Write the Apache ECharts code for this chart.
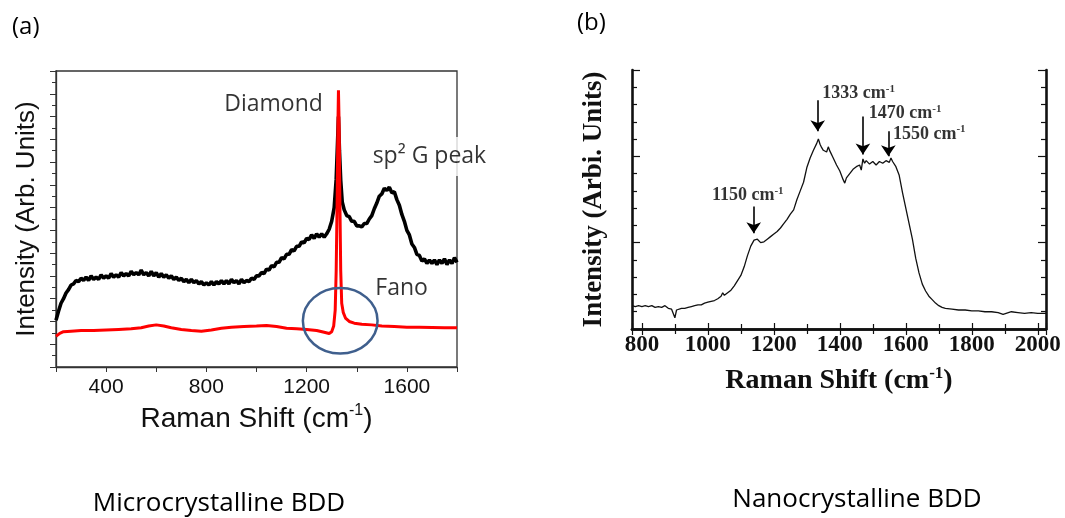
<!DOCTYPE html>
<html>
<head>
<meta charset="utf-8">
<script src="https://cdn.jsdelivr.net/npm/echarts@6/dist/echarts.min.js"></script>
<style>
  html, body { margin: 0; padding: 0; background: #fff; }
  #main { width: 1065px; height: 518px; }
</style>
</head>
<body>
<div id="main"></div>
<script>
// (a) microcrystalline BDD, black = measured spectrum, red = second spectrum
var microX = [200,210,220,230,240,250,260,270,280,290,300,310,320,330,340,350,360,370,380,390,400,410,420,430,440,450,460,470,480,490,500,510,520,530,540,550,560,570,580,590,600,610,620,630,640,650,660,670,680,690,700,710,720,730,740,750,760,770,780,790,800,810,820,830,840,850,860,870,880,890,900,910,920,930,940,950,960,970,980,990,1000,1010,1020,1030,1040,1050,1060,1070,1080,1090,1100,1110,1120,1130,1140,1150,1160,1170,1180,1190,1200,1210,1220,1230,1240,1250,1260,1270,1280,1290,1300,1310,1318,1323,1327,1331,1336,1342,1350,1360,1370,1380,1390,1400,1410,1420,1430,1440,1450,1460,1470,1480,1490,1500,1510,1520,1530,1540,1550,1560,1570,1580,1590,1600,1610,1620,1630,1640,1650,1660,1670,1680,1690,1700,1710,1720,1730,1740,1750,1760,1770,1780,1790,1800];
var microBlack = [4.1,4.9,5.6,6.0,6.5,6.8,7.2,7.3,7.6,7.5,7.8,7.6,7.9,7.6,8.0,7.7,7.9,7.7,8.1,7.8,8.0,7.8,8.2,7.9,8.1,7.9,8.3,8.0,8.2,8.0,8.4,8.1,8.3,8.1,8.5,8.1,8.3,8.0,8.4,8.0,8.3,7.9,8.2,7.9,8.1,7.8,8.0,7.7,7.9,7.6,7.8,7.5,7.7,7.4,7.7,7.4,7.6,7.3,7.5,7.2,7.4,7.2,7.5,7.2,7.5,7.3,7.6,7.3,7.6,7.3,7.7,7.4,7.6,7.3,7.7,7.4,7.6,7.5,7.8,7.7,8.0,8.0,8.3,8.2,8.6,8.5,8.9,8.8,9.2,9.2,9.6,9.5,9.9,9.9,10.3,10.2,10.6,10.6,11.0,10.9,11.3,11.2,11.6,11.3,11.7,11.4,11.7,11.4,11.7,12.1,12.8,14.0,16.5,19.5,22.0,19.0,16.4,14.5,13.8,13.3,13.2,12.8,12.8,12.4,12.4,12.3,12.6,12.6,13.0,13.3,13.9,14.4,15.0,15.2,15.7,15.5,15.8,15.3,15.4,14.7,14.2,13.4,12.8,12.0,11.6,10.8,10.5,9.9,9.8,9.3,9.5,9.1,9.4,9.1,9.4,9.0,9.4,9.1,9.5,9.0,9.4,9.1,9.6,9.2];
var microRedX = [200,215,230,260,300,350,400,450,500,540,570,600,630,660,700,740,780,820,860,900,950,1000,1040,1080,1120,1160,1200,1240,1270,1290,1300,1308,1314,1318,1322,1325,1327,1330,1333,1336,1340,1346,1355,1370,1390,1420,1460,1500,1550,1600,1650,1700,1750,1800];
var microRed = [2.7,2.95,3.1,3.15,3.2,3.2,3.25,3.3,3.35,3.45,3.6,3.7,3.6,3.45,3.3,3.2,3.15,3.25,3.4,3.5,3.55,3.6,3.65,3.55,3.4,3.35,3.3,3.2,3.05,2.95,3.1,3.6,5.0,8.5,15.0,21.5,24.3,21.0,14.0,8.5,5.6,4.8,4.3,4.0,3.85,3.75,3.7,3.6,3.55,3.5,3.5,3.48,3.45,3.45];

// (b) nanocrystalline BDD
var nanoX = [770,780,790,800,810,820,830,840,850,860,870,880,890,895,900,905,910,920,930,940,950,960,970,980,990,1000,1010,1020,1030,1040,1045,1050,1060,1070,1080,1090,1100,1110,1120,1130,1140,1150,1160,1170,1180,1190,1200,1210,1220,1230,1240,1250,1260,1270,1280,1290,1300,1310,1320,1330,1335,1340,1345,1350,1360,1365,1370,1380,1390,1400,1410,1415,1420,1430,1440,1450,1460,1465,1470,1475,1480,1490,1500,1510,1520,1530,1540,1550,1555,1560,1570,1580,1590,1600,1610,1620,1630,1640,1650,1660,1670,1680,1690,1700,1710,1720,1740,1760,1780,1800,1820,1840,1860,1880,1895,1900,1920,1940,1960,1980,2000,2025];
var nanoY = [0.27,0.26,0.27,0.26,0.27,0.26,0.27,0.25,0.26,0.25,0.27,0.24,0.23,0.22,0.13,0.22,0.23,0.24,0.24,0.25,0.26,0.27,0.28,0.28,0.30,0.31,0.32,0.33,0.35,0.38,0.42,0.39,0.42,0.45,0.50,0.56,0.62,0.72,0.85,0.96,1.03,1.04,1.00,1.01,1.04,1.07,1.10,1.13,1.17,1.22,1.27,1.33,1.38,1.50,1.60,1.70,1.87,1.98,2.07,2.15,2.20,2.14,2.10,2.07,2.05,2.11,2.06,1.98,1.90,1.83,1.73,1.69,1.75,1.80,1.85,1.88,1.90,1.84,1.97,1.92,1.95,1.91,1.94,1.90,1.94,1.92,1.95,1.93,1.98,1.94,1.88,1.78,1.58,1.40,1.22,1.04,0.82,0.65,0.52,0.44,0.38,0.34,0.30,0.27,0.25,0.24,0.23,0.22,0.22,0.21,0.21,0.20,0.20,0.19,0.17,0.19,0.20,0.19,0.18,0.19,0.18,0.18];

// peak markers in (b): [label position x, y], arrow x, arrow from/to y
var peakNames = ['1150', '1333', '1470', '1550'];
var peakLabelPos = [[1121, 1.55], [1457, 2.73], [1598, 2.5], [1671, 2.26]];
var peakArrowX = [1139, 1333, 1470, 1547];
var peakArrowY = [[1.42, 1.11], [2.65, 2.29], [2.46, 2.02], [2.29, 2.0]];

function zip(xs, ys) {
  var out = [];
  for (var i = 0; i < xs.length; i++) out.push([xs[i], ys[i]]);
  return out;
}

var chart = echarts.init(document.getElementById('main'), null, { renderer: 'canvas' });

var sansA = 'Liberation Sans';
var calib = 'Open Sans';
var serif = 'Liberation Serif';

var option = {
  animation: false,
  backgroundColor: '#fff',
  grid: [
    { left: 56, top: 71, width: 401, height: 296, show: true, borderColor: '#333', borderWidth: 1.3 },
    { left: 632, top: 70, width: 414, height: 259 }
  ],
  xAxis: [
    {
      gridIndex: 0, type: 'value', min: 200, max: 1800, interval: 200,
      axisLine: { lineStyle: { color: '#333', width: 1.3 } },
      axisTick: { length: 5, lineStyle: { color: '#333' } },
      splitLine: { show: false },
      axisLabel: {
        margin: 10, color: '#111', fontFamily: sansA, fontSize: 21,
        formatter: function (v) { return v % 400 === 0 ? String(v) : ''; }
      },
      name: 'Raman Shift (cm{s|-1})', nameLocation: 'middle', nameGap: 33,
      nameTextStyle: {
        color: '#111', fontFamily: sansA, fontSize: 28, lineHeight: 32,
        rich: { s: { fontFamily: sansA, fontSize: 16, lineHeight: 14, verticalAlign: 'top', color: '#111' } }
      }
    },
    {
      gridIndex: 1, type: 'value', min: 770, max: 2025, splitNumber: 6,
      axisLine: { lineStyle: { color: '#111', width: 2.6 } },
      axisTick: { inside: true, length: 6, lineStyle: { color: '#111', width: 1.2 } },
      minorTick: { show: true, splitNumber: 2, length: 5, lineStyle: { color: '#111', width: 1.2 } },
      splitLine: { show: false },
      axisLabel: {
        margin: 5, color: '#111', fontFamily: serif, fontWeight: 'bold', fontSize: 23,
        formatter: function (v) { return String(v); }
      },
      name: 'Raman Shift (cm{s|-1})', nameLocation: 'middle', nameGap: 36,
      nameTextStyle: {
        color: '#111', fontFamily: serif, fontWeight: 'bold', fontSize: 28, lineHeight: 32,
        rich: { s: { fontFamily: serif, fontWeight: 'bold', fontSize: 17, lineHeight: 14, verticalAlign: 'top', color: '#111' } }
      }
    },
    {
      gridIndex: 1, type: 'value', position: 'top', min: 770, max: 2025, splitNumber: 6,
      axisLine: { lineStyle: { color: '#111', width: 2.6 } },
      axisTick: { inside: true, length: 6, lineStyle: { color: '#111', width: 1.2 } },
      minorTick: { show: true, splitNumber: 2, length: 5, lineStyle: { color: '#111', width: 1.2 } },
      splitLine: { show: false },
      axisLabel: { show: false }
    }
  ],
  yAxis: [
    {
      gridIndex: 0, type: 'value', min: 0, max: 26, interval: 2,
      axisLine: { show: true, lineStyle: { color: '#333', width: 1.3 } },
      axisTick: { show: true, length: 6, lineStyle: { color: '#333' } },
      minorTick: { show: true, splitNumber: 2, length: 4, lineStyle: { color: '#333' } },
      splitLine: { show: false },
      axisLabel: { show: false },
      name: 'Intensity (Arb. Units)', nameLocation: 'middle', nameGap: 16,
      nameTextStyle: { color: '#111', fontFamily: sansA, fontSize: 26 }
    },
    {
      gridIndex: 1, type: 'value', min: 0, max: 3, interval: 1,
      axisLine: { show: true, lineStyle: { color: '#111', width: 2.6 } },
      axisTick: { show: true, inside: true, length: 8, lineStyle: { color: '#111', width: 1.2 } },
      minorTick: { show: true, splitNumber: 5, length: 5, lineStyle: { color: '#111', width: 1.2 } },
      splitLine: { show: false },
      axisLabel: { show: false },
      name: 'Intensity (Arbi. Units)', nameLocation: 'middle', nameGap: 24,
      nameTextStyle: { color: '#111', fontFamily: serif, fontWeight: 'bold', fontSize: 27 }
    },
    {
      gridIndex: 1, type: 'value', position: 'right', min: 0, max: 3, interval: 1,
      axisLine: { show: true, lineStyle: { color: '#111', width: 2.6 } },
      axisTick: { show: true, inside: true, length: 8, lineStyle: { color: '#111', width: 1.2 } },
      minorTick: { show: true, splitNumber: 5, length: 5, lineStyle: { color: '#111', width: 1.2 } },
      splitLine: { show: false },
      axisLabel: { show: false }
    }
  ],
  series: [
    {
      type: 'line', xAxisIndex: 0, yAxisIndex: 0, data: zip(microX, microBlack),
      showSymbol: false, lineStyle: { color: '#000', width: 3.6 }, z: 2
    },
    {
      type: 'line', xAxisIndex: 0, yAxisIndex: 0, data: zip(microRedX, microRed),
      showSymbol: false, lineStyle: { color: '#ff0000', width: 3 }, z: 3
    },
    {
      type: 'scatter', xAxisIndex: 0, yAxisIndex: 0, symbolSize: 0, silent: true, z: 5,
      label: { show: true, position: 'inside', color: '#000', fontFamily: calib, fontSize: 23, textBorderWidth: 0 },
      data: [
        { value: [1068, 23.1], label: { formatter: 'Diamond', color: '#000' } },
        { value: [1690, 18.5], label: { formatter: 'sp² G peak', color: '#000', backgroundColor: '#fff', padding: [8, 2] } },
        { value: [1579, 6.9], label: { formatter: 'Fano', color: '#000', backgroundColor: '#fff', padding: [3, 4] } }
      ]
    },
    {
      type: 'line', xAxisIndex: 1, yAxisIndex: 1, data: zip(nanoX, nanoY),
      showSymbol: false, lineStyle: { color: '#111', width: 1.3 },
      markLine: {
        silent: true, symbol: ['none', 'arrow'], symbolSize: 11,
        label: { show: false },
        lineStyle: { color: '#000', width: 1.6, type: 'solid' },
        data: peakArrowX.map(function (x, i) {
          return [{ coord: [x, peakArrowY[i][0]] }, { coord: [x, peakArrowY[i][1]] }];
        })
      }
    },
    {
      type: 'scatter', xAxisIndex: 1, yAxisIndex: 1, symbolSize: 0, silent: true, z: 5,
      label: {
        show: true, position: 'inside', color: '#000', textBorderWidth: 0,
        formatter: function (p) { return '{b|' + p.name + ' cm}{s|-1}'; },
        rich: {
          b: { fontFamily: serif, fontWeight: 'bold', fontSize: 18, lineHeight: 20, color: '#000' },
          s: { fontFamily: serif, fontWeight: 'bold', fontSize: 11, lineHeight: 10, verticalAlign: 'top', color: '#000' }
        }
      },
      data: peakNames.map(function (n, i) { return { name: n, value: peakLabelPos[i] }; })
    }
  ],
  graphic: [
    { type: 'text', left: 12, top: 15, style: { text: '(a)', font: '24px "Open Sans"', fill: '#000' } },
    { type: 'text', left: 577, top: 11, style: { text: '(b)', font: '24px "Open Sans"', fill: '#000' } },
    { type: 'text', x: 219, y: 504, style: { text: 'Microcrystalline BDD', font: '26px "Open Sans"', fill: '#000', align: 'center', verticalAlign: 'middle' } },
    { type: 'text', x: 857, y: 500, style: { text: 'Nanocrystalline BDD', font: '26px "Open Sans"', fill: '#000', align: 'center', verticalAlign: 'middle' } }
  ]
};

chart.setOption(option);

// Fano circle around the diamond line, given in data units of panel (a)
var fanoCenter = [1334, 4.06];
var fanoRadius = [149, 2.88];
var c = chart.convertToPixel({ gridIndex: 0 }, fanoCenter);
var e = chart.convertToPixel({ gridIndex: 0 }, [fanoCenter[0] + fanoRadius[0], fanoCenter[1] + fanoRadius[1]]);
chart.setOption({
  graphic: [{
    id: 'fano', type: 'ellipse', z: 10,
    shape: { cx: c[0], cy: c[1], rx: Math.abs(e[0] - c[0]), ry: Math.abs(e[1] - c[1]) },
    style: { fill: 'none', stroke: '#3f5f8d', lineWidth: 2.5 }
  }]
});
</script>
</body>
</html>
